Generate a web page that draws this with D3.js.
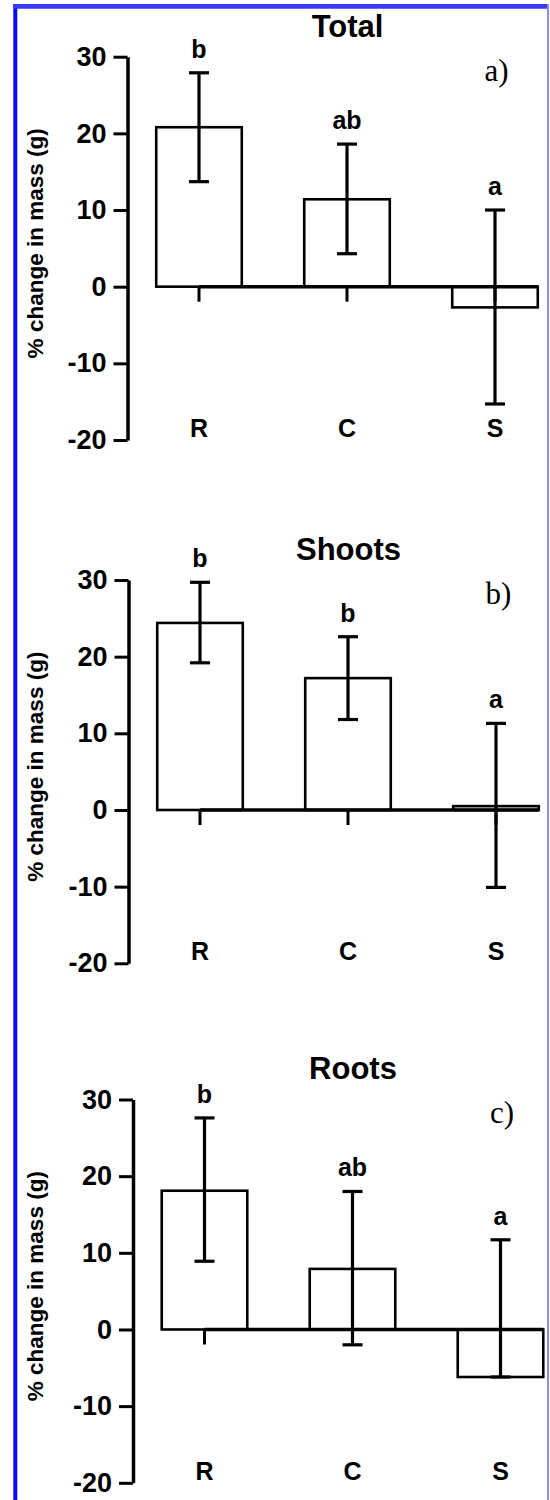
<!DOCTYPE html>
<html>
<head>
  <meta charset="utf-8">
  <title>% change in mass</title>
  <script src="https://cdn.jsdelivr.net/npm/d3@7"></script>
  <style>
    html, body { margin: 0; padding: 0; background: #fff; }
    svg { display: block; }
    .sans { font-family: "Liberation Sans", Arial, sans-serif; font-weight: bold; }
    .serif { font-family: "Liberation Serif", "Times New Roman", serif; }
  </style>
</head>
<body>
<svg id="fig" width="550" height="1500"></svg>
<script>
  // values
  var categories = ['R', 'C', 'S'];
  var yTicks = [-20, -10, 0, 10, 20, 30];

  var panelTitles = ['Total', 'Shoots', 'Roots'];
  var panelTags = ['a)', 'b)', 'c)'];

  var totalMean = [20.8, 11.4, -2.7];
  var totalLow = [13.7, 4.3, -15.3];
  var totalHigh = [27.9, 18.6, 10.0];
  var totalLetters = ['b', 'ab', 'a'];

  var shootsMean = [24.4, 17.2, 0.5];
  var shootsLow = [19.2, 11.8, -10.1];
  var shootsHigh = [29.7, 22.6, 11.3];
  var shootsLetters = ['b', 'b', 'a'];

  var rootsMean = [18.1, 7.9, -6.2];
  var rootsLow = [8.9, -2.0, -6.2];
  var rootsHigh = [27.6, 18.0, 11.7];
  var rootsLetters = ['b', 'ab', 'a'];

  var series = [
    {mean: totalMean, low: totalLow, high: totalHigh, letters: totalLetters},
    {mean: shootsMean, low: shootsLow, high: shootsHigh, letters: shootsLetters},
    {mean: rootsMean, low: rootsLow, high: rootsHigh, letters: rootsLetters}
  ];

  // panel placement
  var axisX = [127.5, 128.5, 133];
  var zeroY = [286.7, 810, 1329.5];

  var svg = d3.select('#fig');

  // blue frame
  svg.append('line').attr('x1', 15.3).attr('y1', 4).attr('x2', 15.3).attr('y2', 1500)
    .attr('stroke', '#0a0aff').attr('stroke-width', 4);
  svg.append('line').attr('x1', 13.3).attr('y1', 6.4).attr('x2', 549).attr('y2', 6.4)
    .attr('stroke', '#3a3af2').attr('stroke-width', 4.6);
  svg.append('line').attr('x1', 548).attr('y1', 4).attr('x2', 548).attr('y2', 1500)
    .attr('stroke', '#8c8ce6').attr('stroke-width', 2);

  series.forEach(function(s, p) {
    var ax = axisX[p], y0 = zeroY[p];

    var y = d3.scaleLinear().domain([-20, 30]).range([y0 + 153.3, y0 - 230]);
    var x = d3.scaleBand().domain(categories)
          .range([ax - 2.5, ax - 2.5 + 444])
          .paddingInner(0.422)
          .paddingOuter(0.211);
    var cx = function(c) { return x(c) + x.bandwidth() / 2; };

    var g = svg.append('g').attr('class', 'panel');

    // y axis (plain hyphen for negatives, like the original)
    var yAxis = g.append('g')
        .attr('transform', 'translate(' + ax + ',0)')
        .call(d3.axisLeft(y).tickValues(yTicks).tickSize(14).tickSizeOuter(0).tickPadding(7)
          .tickFormat(function(d) { return String(d); }));
    yAxis.select('.domain').attr('stroke', '#000').attr('stroke-width', 3.5);
    yAxis.selectAll('.tick line').attr('stroke', '#000').attr('stroke-width', 3);
    yAxis.selectAll('.tick text')
        .attr('class', 'sans')
        .attr('fill', '#000')
        .style('font-size', '27px');

    // bars
    g.selectAll('rect.bar')
        .data(categories)
      .enter().append('rect')
        .attr('class', 'bar')
        .attr('x', function(c) { return x(c); })
        .attr('width', x.bandwidth())
        .attr('y', function(c, i) { return Math.min(y(s.mean[i]), y(0)); })
        .attr('height', function(c, i) { return Math.abs(y(s.mean[i]) - y(0)); })
        .attr('fill', '#fff')
        .attr('stroke', '#000')
        .attr('stroke-width', 2.6);

    // x axis line from first category to last bar edge, with ticks going down
    var last = categories[categories.length - 1];
    g.append('line')
        .attr('x1', cx(categories[0])).attr('x2', x(last) + x.bandwidth())
        .attr('y1', y(0)).attr('y2', y(0))
        .attr('stroke', '#000').attr('stroke-width', 3.5);
    g.selectAll('line.xtick')
        .data(categories)
      .enter().append('line')
        .attr('class', 'xtick')
        .attr('x1', cx).attr('x2', cx)
        .attr('y1', y(0)).attr('y2', y(0) + 15)
        .attr('stroke', '#000').attr('stroke-width', 3);

    // error bars
    var err = g.selectAll('g.err')
        .data(categories)
      .enter().append('g')
        .attr('class', 'err')
        .attr('stroke', '#000')
        .attr('stroke-width', 3.2);
    err.append('line')
        .attr('x1', cx).attr('x2', cx)
        .attr('y1', function(c, i) { return y(s.high[i]); })
        .attr('y2', function(c, i) { return y(s.low[i]); });
    err.append('line')
        .attr('x1', function(c) { return cx(c) - 10; })
        .attr('x2', function(c) { return cx(c) + 10; })
        .attr('y1', function(c, i) { return y(s.high[i]); })
        .attr('y2', function(c, i) { return y(s.high[i]); });
    err.append('line')
        .attr('x1', function(c) { return cx(c) - 10; })
        .attr('x2', function(c) { return cx(c) + 10; })
        .attr('y1', function(c, i) { return y(s.low[i]); })
        .attr('y2', function(c, i) { return y(s.low[i]); });

    // significance letters
    g.selectAll('text.sig')
        .data(categories)
      .enter().append('text')
        .attr('class', 'sig sans')
        .attr('x', cx)
        .attr('y', function(c, i) { return y(s.high[i]) - 15; })
        .attr('text-anchor', 'middle')
        .style('font-size', '25px')
        .text(function(c, i) { return s.letters[i]; });

    // category labels
    g.selectAll('text.cat')
        .data(categories)
      .enter().append('text')
        .attr('class', 'cat sans')
        .attr('x', cx)
        .attr('y', y(-20) - 3)
        .attr('text-anchor', 'middle')
        .style('font-size', '25px')
        .text(function(c) { return c; });

    // title and tag
    g.append('text')
        .attr('class', 'sans')
        .attr('x', ax + 220)
        .attr('y', y(0) - 250)
        .attr('text-anchor', 'middle')
        .style('font-size', '31px')
        .text(panelTitles[p]);
    g.append('text')
        .attr('class', 'serif')
        .attr('x', ax + 357)
        .attr('y', y(0) - 206)
        .style('font-size', '31px')
        .text(panelTags[p]);

    // y label
    g.append('text')
        .attr('class', 'sans')
        .attr('transform', 'translate(43,' + (y(5) - 5) + ') rotate(-90)')
        .attr('text-anchor', 'middle')
        .style('font-size', '22.5px')
        .text('% change in mass (g)');
  });
</script>
</body>
</html>
